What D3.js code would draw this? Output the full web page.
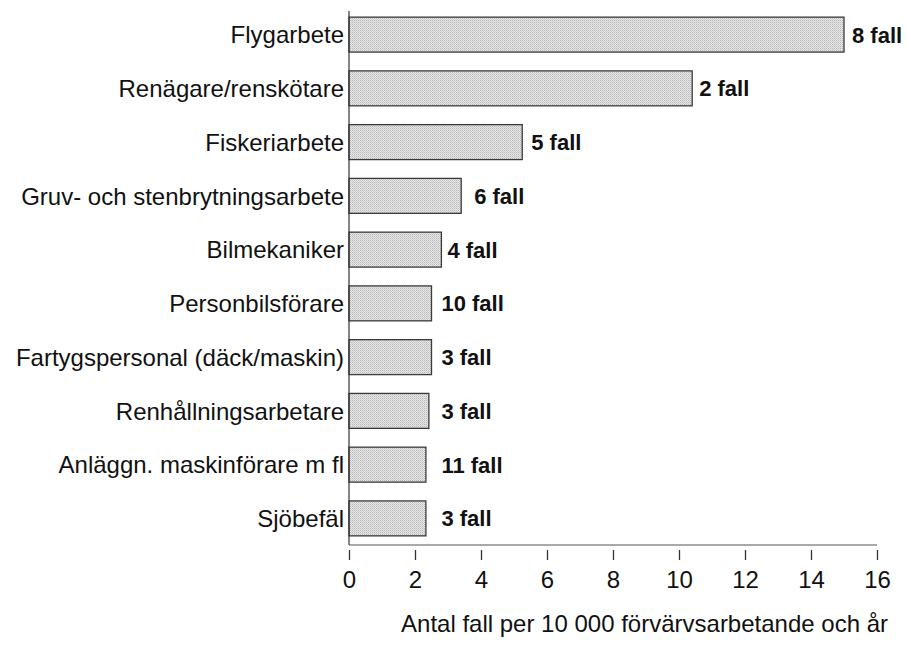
<!DOCTYPE html>
<html>
<head>
<meta charset="utf-8">
<script src="https://cdn.jsdelivr.net/npm/d3@7"></script>
<style>
  html, body { margin: 0; padding: 0; background: #fff; }
  svg { display: block; }
  text { font-family: "Liberation Sans", Arial, Helvetica, sans-serif; fill: #111; }
</style>
</head>
<body>
<svg id="chart" width="907" height="655"></svg>
<script>
// Occupations, rate per 10 000 employed per year, and number of cases
const categories = [
  "Flygarbete",
  "Renägare/renskötare",
  "Fiskeriarbete",
  "Gruv- och stenbrytningsarbete",
  "Bilmekaniker",
  "Personbilsförare",
  "Fartygspersonal (däck/maskin)",
  "Renhållningsarbetare",
  "Anläggn. maskinförare m fl",
  "Sjöbefäl"
];
const rates = [15.0, 10.4, 5.25, 3.4, 2.8, 2.5, 2.5, 2.42, 2.33, 2.33];
const cases = [8, 2, 5, 6, 4, 10, 3, 3, 11, 3];
const tickValues = [0, 2, 4, 6, 8, 10, 12, 14, 16];
const axisTitle = "Antal fall per 10 000 förvärvsarbetande och år";

// Layout
const width = 907, height = 655;
const margin = { left: 349, right: 30, top: 8, bottom: 110 };
const labelPad = [8, 7, 9, 13, 6, 8, 8, 8, 8, 8];   // gap between bar end and its case label
const labelMinValue = 2.8;                          // short bars share one label column

const svg = d3.select("#chart");

const x = d3.scaleLinear().domain([0, 16]).range([margin.left, width - margin.right]);
const y = d3.scaleBand().domain(categories).range([margin.top, height - margin.bottom]).paddingInner(0.35).paddingOuter(0.17);

// Stippled grey fill for the bars
const defs = svg.append("defs");
const pat = defs.append("pattern")
  .attr("id", "stipple").attr("patternUnits", "userSpaceOnUse")
  .attr("width", 2).attr("height", 2);
pat.append("rect").attr("width", 2).attr("height", 2).attr("fill", "#e6e6e6");
pat.append("rect").attr("width", 1).attr("height", 1).attr("fill", "#b9b9b9");
pat.append("rect").attr("x", 1).attr("y", 1).attr("width", 1).attr("height", 1).attr("fill", "#cfcfcf");

const rows = categories.map((c, i) => ({ c, v: rates[i], n: cases[i], pad: labelPad[i] }));

// Bars
svg.append("g").selectAll("rect").data(rows).join("rect")
  .attr("x", x(0))
  .attr("y", d => y(d.c))
  .attr("width", d => x(d.v) - x(0))
  .attr("height", y.bandwidth())
  .attr("fill", "url(#stipple)")
  .attr("stroke", "#3a3a3a")
  .attr("stroke-width", 1.3);

// Case count labels
svg.append("g").selectAll("text").data(rows).join("text")
  .attr("x", d => Math.max(x(d.v) + d.pad, x(labelMinValue)))
  .attr("y", d => y(d.c) + y.bandwidth() / 2)
  .attr("dy", "0.36em")
  .attr("font-size", 22)
  .attr("font-weight", "bold")
  .text(d => d.n + " fall");

// Category labels
svg.append("g").selectAll("text").data(rows).join("text")
  .attr("x", x(0) - 5)
  .attr("y", d => y(d.c) + y.bandwidth() / 2)
  .attr("dy", "0.36em")
  .attr("text-anchor", "end")
  .attr("font-size", 24)
  .text(d => d.c);

// Vertical axis line
svg.append("line")
  .attr("x1", x(0)).attr("x2", x(0))
  .attr("y1", 11).attr("y2", height - margin.bottom)
  .attr("stroke", "#333").attr("stroke-width", 1.2);

// Horizontal axis
const axisY = height - margin.bottom;
const xAxis = d3.axisBottom(x).tickValues(tickValues).tickSize(10).tickPadding(11).tickFormat(d3.format("d"));
const gx = svg.append("g").attr("transform", `translate(0,${axisY + 5})`).call(xAxis);
gx.select(".domain").remove();
gx.selectAll(".tick line").attr("stroke", "#333").attr("stroke-width", 1.3);
gx.selectAll(".tick text").attr("font-size", 24).attr("font-family", "Liberation Sans, Arial, sans-serif").attr("fill", "#111");
svg.append("line")
  .attr("x1", x(0)).attr("x2", x(16))
  .attr("y1", axisY).attr("y2", axisY)
  .attr("stroke", "#555").attr("stroke-width", 1.1);

// Axis title
svg.append("text")
  .attr("x", 888)
  .attr("y", 632)
  .attr("text-anchor", "end")
  .attr("font-size", 24)
  .text(axisTitle);
</script>
</body>
</html>
